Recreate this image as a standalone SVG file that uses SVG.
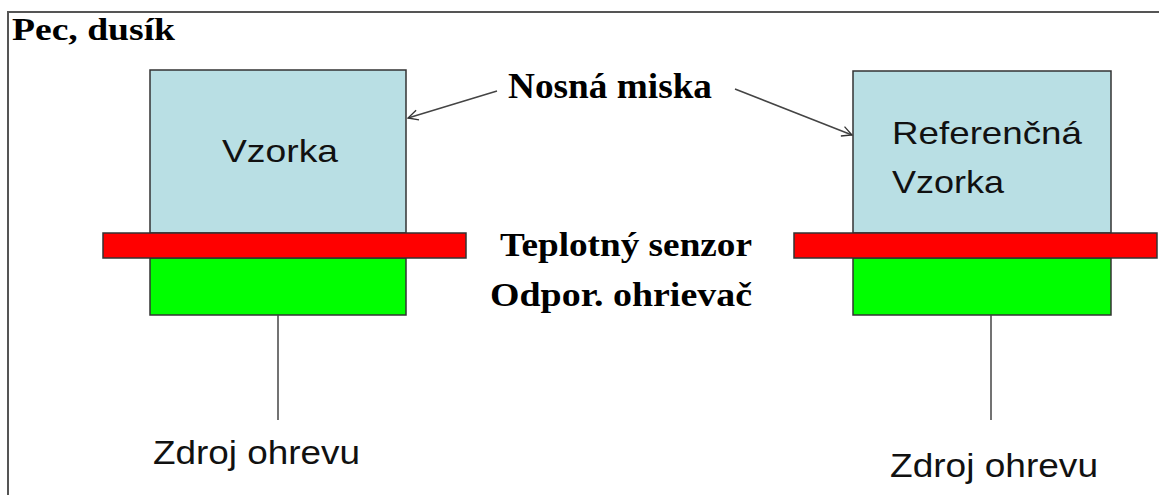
<svg xmlns="http://www.w3.org/2000/svg" width="1159" height="495" viewBox="0 0 1159 495">
<defs>
<marker id="open" viewBox="0 0 12 12" refX="11" refY="6" markerWidth="12" markerHeight="12" markerUnits="userSpaceOnUse" orient="auto">
<path d="M1 1 L11 6 L1 11" fill="none" stroke="#333" stroke-width="1.3"/>
</marker>
</defs>
<style>
.cup{fill:#b9dfe4;stroke:#333;stroke-width:1.5}
.sensor{fill:#ff0000;stroke:#333;stroke-width:1.5}
.heater{fill:#00ff00;stroke:#333;stroke-width:1.5}
.sans{font-family:"Liberation Sans",Arial,sans-serif;font-size:32px;fill:#111}
.src{font-size:34px}
.serif{font-family:"Liberation Serif","Times New Roman",serif;font-weight:bold;fill:#000}
.wire{stroke:#444;stroke-width:1.5;fill:none}
</style>
<rect x="0" y="0" width="1159" height="495" fill="#fff"/>
<path d="M8 495 V12 H1159" fill="none" stroke="#555" stroke-width="2"/>
<text class="serif" x="12" y="40" font-size="32" textLength="163" lengthAdjust="spacingAndGlyphs">Pec, dusík</text>
<g id="sample">
<rect class="cup" x="150" y="70" width="256" height="163"/>
<text class="sans" x="222" y="162" textLength="116" lengthAdjust="spacingAndGlyphs">Vzorka</text>
<rect class="heater" x="150" y="258" width="256" height="57"/>
<rect class="sensor" x="103" y="233" width="363" height="25"/>
</g>
<g id="reference">
<rect class="cup" x="853" y="71" width="258" height="162"/>
<text class="sans" x="892" y="144" textLength="190" lengthAdjust="spacingAndGlyphs">Referenčná</text>
<text class="sans" x="892" y="193" textLength="112" lengthAdjust="spacingAndGlyphs">Vzorka</text>
<rect class="heater" x="853" y="258" width="258" height="57"/>
<rect class="sensor" x="794" y="233" width="363" height="25"/>
</g>
<g id="labels">
<text class="serif" x="508" y="98" font-size="35" textLength="204" lengthAdjust="spacingAndGlyphs">Nosná miska</text>
<text class="serif" x="500" y="256" font-size="34" textLength="252" lengthAdjust="spacingAndGlyphs">Teplotný senzor</text>
<text class="serif" x="490" y="306" font-size="34" textLength="262" lengthAdjust="spacingAndGlyphs">Odpor. ohrievač</text>
</g>
<g id="source-left">
<text class="sans src" x="153" y="464" textLength="207" lengthAdjust="spacingAndGlyphs">Zdroj ohrevu</text>
</g>
<g id="source-right">
<text class="sans src" x="890" y="477" textLength="208" lengthAdjust="spacingAndGlyphs">Zdroj ohrevu</text>
</g>
<g id="connectors">
<line class="wire" x1="497" y1="91" x2="408" y2="118" marker-end="url(#open)"/>
<line class="wire" x1="735" y1="89" x2="852" y2="135" marker-end="url(#open)"/>
<line class="wire" x1="278" y1="315" x2="278" y2="420"/>
<line class="wire" x1="991" y1="315" x2="991" y2="420"/>
</g>
</svg>
